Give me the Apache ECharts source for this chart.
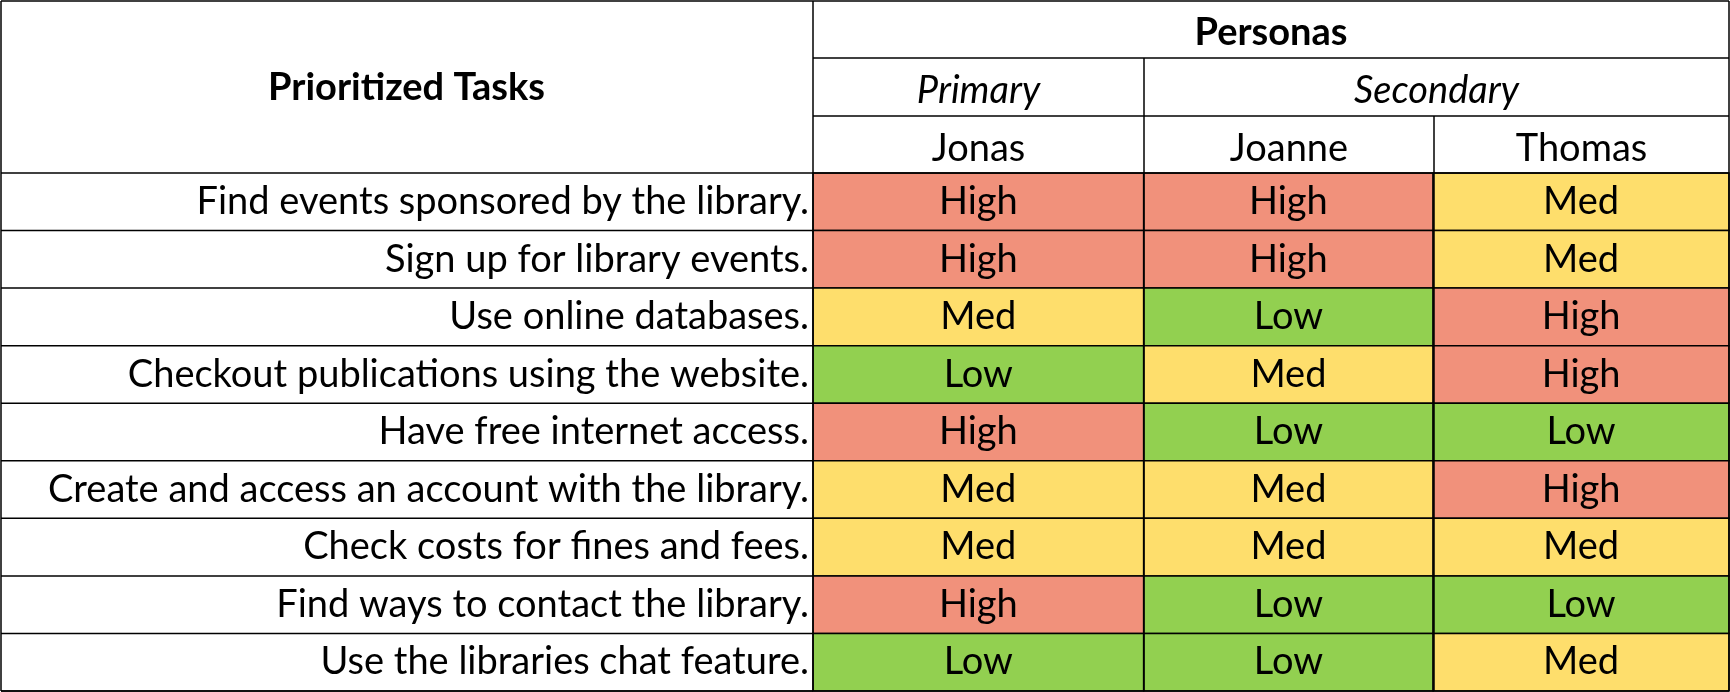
<!DOCTYPE html>
<html>
<head>
    <meta charset="utf-8" />
    <title>Persona task priorities</title>
    <style>
        html, body { margin: 0; padding: 0; background: #fff; }
        #main { width: 1730px; height: 692px; }
    </style>
    <script src="https://cdn.jsdelivr.net/npm/echarts@6/dist/echarts.min.js"></script>
</head>
<body>
    <div id="main"></div>
    <script type="text/javascript">
        // data
        const tasks = [
            'Find events sponsored by the library.',
            'Sign up for library events.',
            'Use online databases.',
            'Checkout publications using the website.',
            'Have free internet access.',
            'Create and access an account with the library.',
            'Check costs for fines and fees.',
            'Find ways to contact the library.',
            'Use the libraries chat feature.'
        ];
        const personas = ['Jonas', 'Joanne', 'Thomas'];
        const jonas = ['High', 'High', 'Med', 'Low', 'High', 'Med', 'Med', 'High', 'Low'];
        const joanne = ['High', 'High', 'Low', 'Med', 'Low', 'Med', 'Med', 'Low', 'Low'];
        const thomas = ['Med', 'Med', 'High', 'High', 'Low', 'High', 'Med', 'Low', 'Med'];

        // layout: column edges as fraction of persona area (columns differ in width)
        const colEdges = [0, 0.361, 0.677, 1];
        const colors = { High: '#F1917B', Med: '#FEDE6C', Low: '#92D050' };
        const font = 'Lato, "Open Sans", sans-serif';
        const fs = 38;

        const cells = [];
        [jonas, joanne, thomas].forEach(function (col, c) {
            col.forEach(function (v, r) { cells.push([c, r, v]); });
        });

        const myChart = echarts.init(document.getElementById('main'));

        const L = 813, X2 = 1144, X3 = 1434, R = 1729, T = 1, H1 = 58, H2 = 116, H3 = 173, B = 691;
        function line(x1, y1, x2, y2) {
            return { type: 'line', shape: { x1: x1, y1: y1, x2: x2, y2: y2 }, style: { stroke: '#000', lineWidth: 1.5 }, z: 10 };
        }
        function text(t, x, y, extra) {
            return { type: 'text', x: x, y: y, style: Object.assign({ text: t, fill: '#000', font: fs + 'px ' + font, align: 'center', verticalAlign: 'middle' }, extra || {}), z: 10 };
        }

        const option = {
            animation: false,
            grid: { left: L, right: 1, top: H3, bottom: 1 },
            xAxis: { type: 'value', min: 0, max: 1, show: false },
            yAxis: {
                type: 'category', data: tasks, inverse: true,
                axisLine: { show: false }, axisTick: { show: false },
                axisLabel: { fontSize: fs, fontFamily: font, color: '#000', margin: 4 }
            },
            series: [{
                type: 'custom',
                data: cells,
                renderItem: function (params, api) {
                    const c = api.value(0), r = api.value(1);
                    const p0 = api.coord([colEdges[c], r]);
                    const p1 = api.coord([colEdges[c + 1], r]);
                    const h = api.size([0, 1])[1];
                    const v = cells[params.dataIndex][2];
                    const children = [{
                        type: 'rect',
                        shape: { x: p0[0], y: p0[1] - h / 2, width: p1[0] - p0[0], height: h },
                        style: { fill: colors[v], stroke: '#000', lineWidth: 1.5 }
                    }, {
                        type: 'text',
                        x: (p0[0] + p1[0]) / 2, y: p0[1],
                        style: { text: v, font: fs + 'px ' + font, fill: '#000', align: 'center', verticalAlign: 'middle' }
                    }];
                    if (c === 0) {
                        children.push({
                            type: 'line',
                            shape: { x1: 1, y1: p0[1] + h / 2, x2: p0[0], y2: p0[1] + h / 2 },
                            style: { stroke: '#000', lineWidth: 1.5 }
                        });
                    }
                    return { type: 'group', children: children };
                }
            }],
            graphic: [
                line(1, T, R, T), line(1, T, 1, B), line(R, T, R, B), line(1, B, R, B),
                line(L, H1, R, H1), line(L, H2, R, H2), line(1, H3, R, H3),
                line(L, T, L, B), line(X2, H1, X2, B), line(X3, H2, X3, B),
                text('Prioritized Tasks', L / 2, 88, { font: 'bold ' + fs + 'px ' + font }),
                text('Personas', (L + R) / 2, 33, { font: 'bold ' + fs + 'px ' + font }),
                text('Primary', (L + X2) / 2, 91, { font: 'italic ' + fs + 'px ' + font }),
                text('Secondary', (X2 + R) / 2, 91, { font: 'italic ' + fs + 'px ' + font }),
                text(personas[0], (L + X2) / 2, 149),
                text(personas[1], (X2 + X3) / 2, 149),
                text(personas[2], (X3 + R) / 2, 149)
            ]
        };
        myChart.setOption(option);
    </script>
</body>
</html>
